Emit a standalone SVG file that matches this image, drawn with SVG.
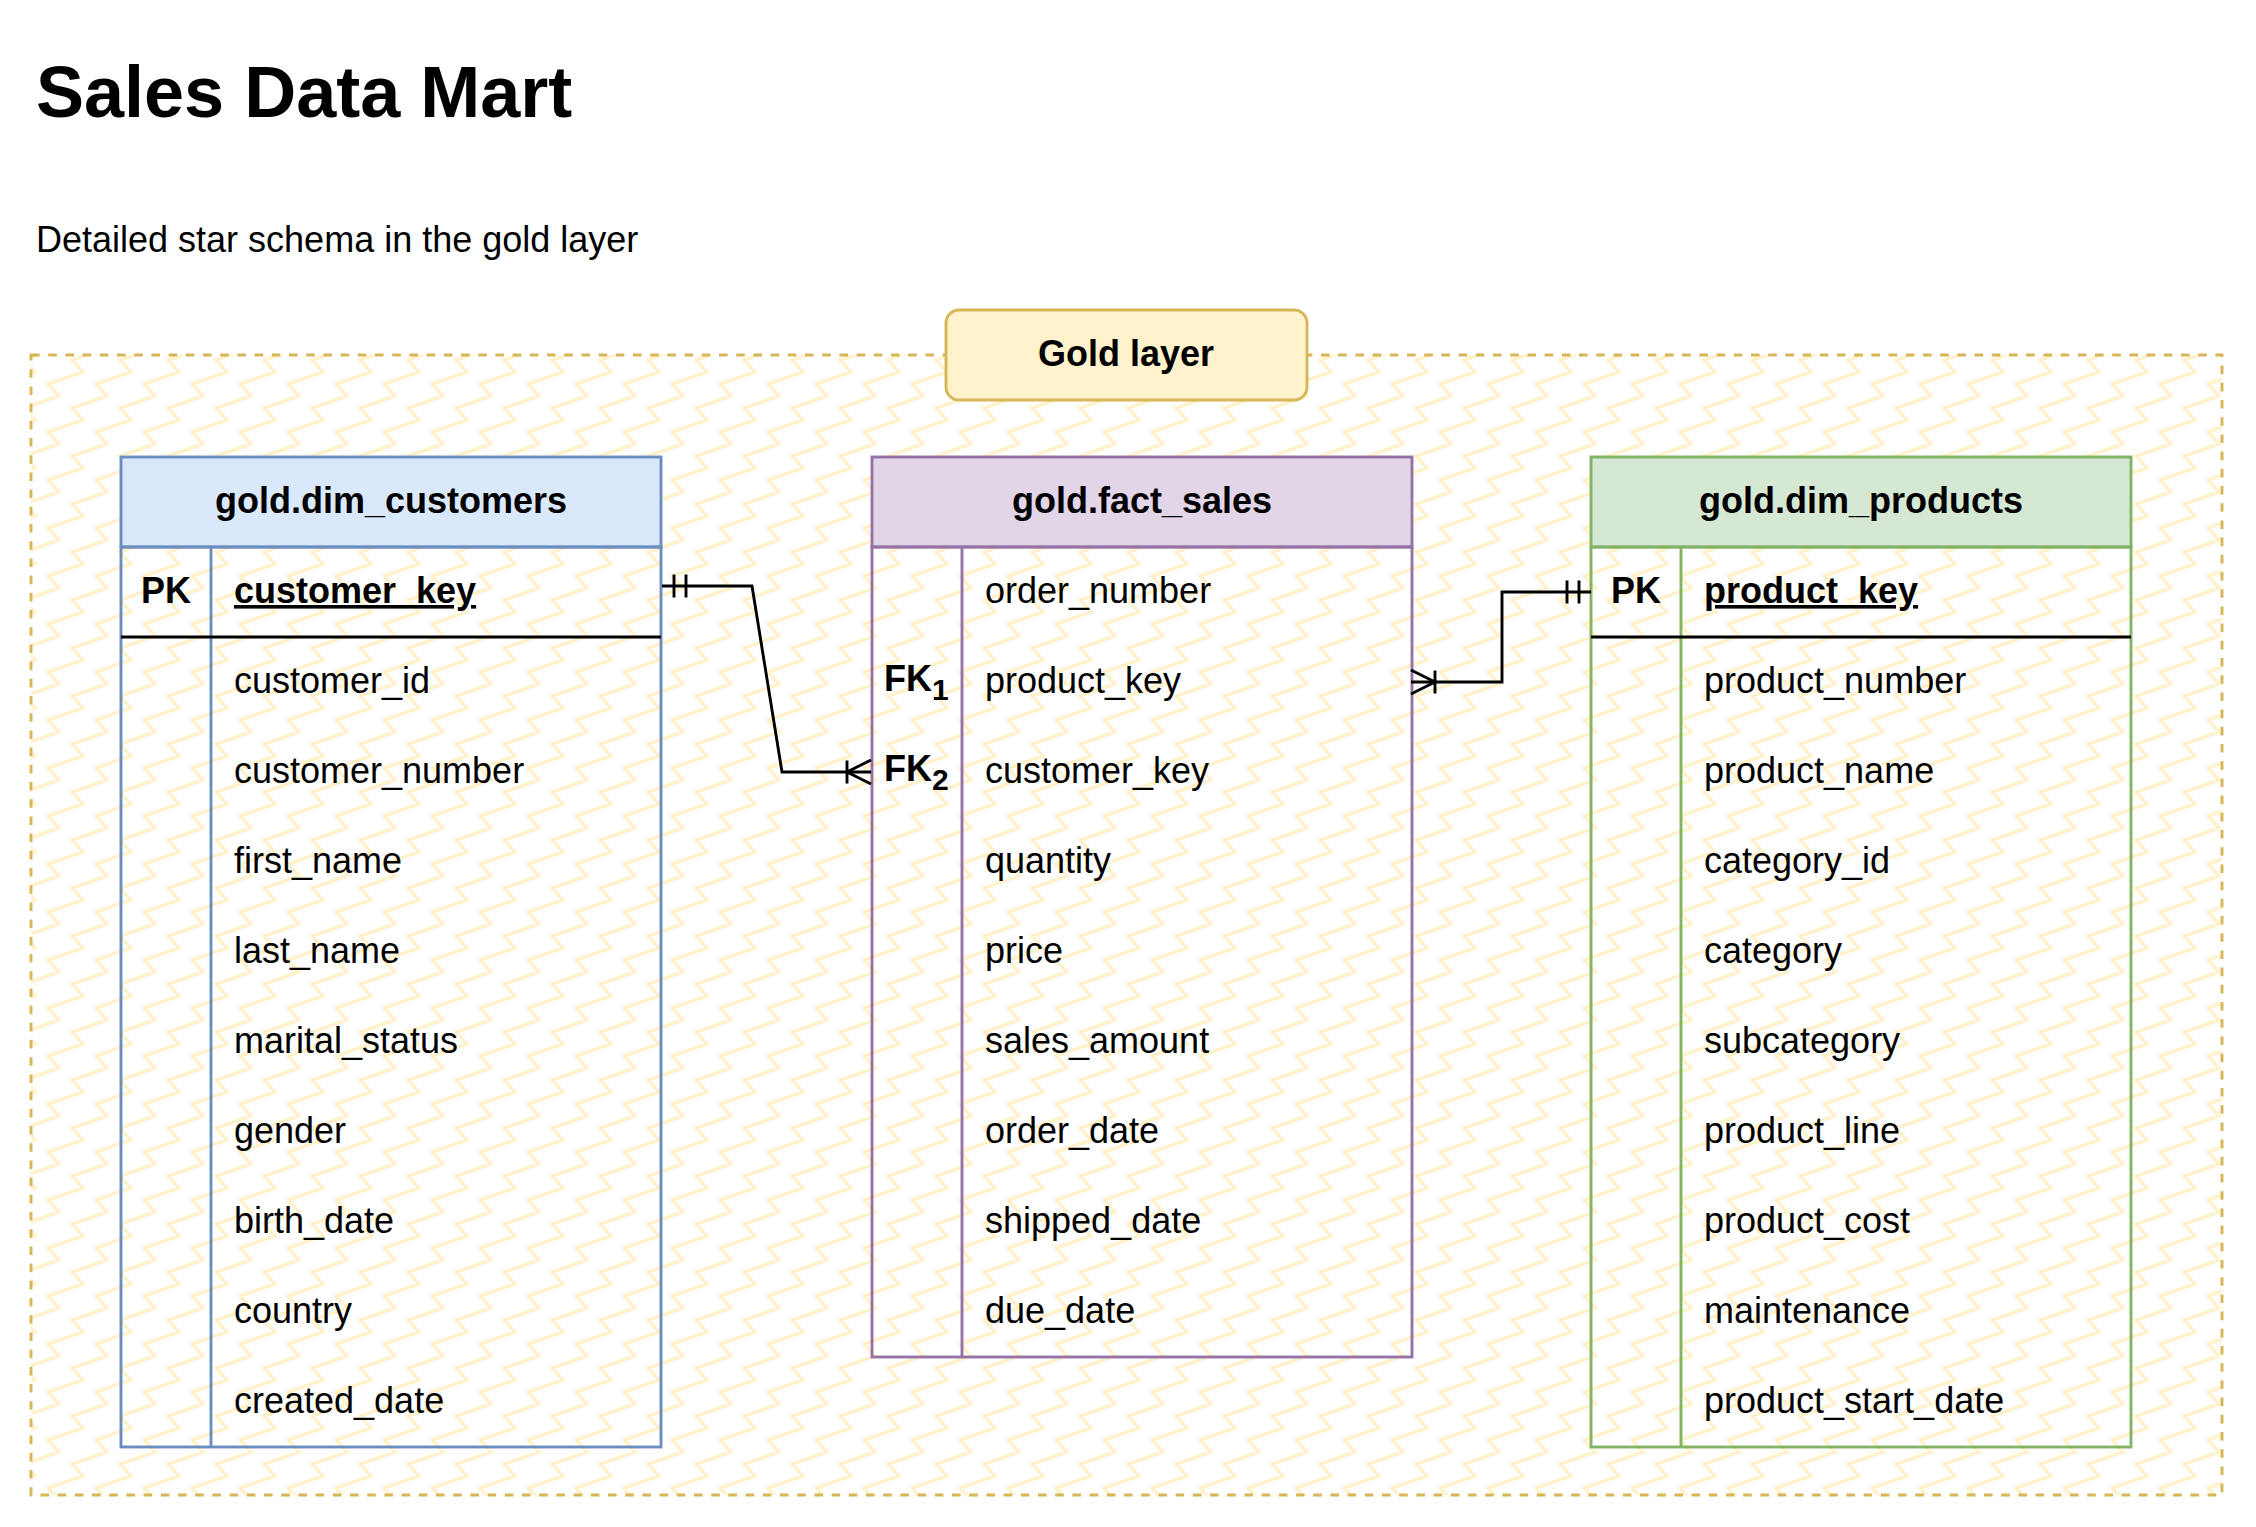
<svg xmlns="http://www.w3.org/2000/svg" width="2256" height="1527" viewBox="0 0 2256 1527">
<defs>
<style>
text{font-family:"Liberation Sans",Arial,Helvetica,sans-serif;fill:#000;font-size:36px}
.b{font-weight:bold}
.title{font-size:72px;font-weight:bold}
.c{text-anchor:middle}
.u{text-decoration:underline}
.sub{font-size:30px;font-weight:bold}
.pkl{stroke:#000;stroke-width:2.9}
.edge{fill:none;stroke:#000;stroke-width:2.9}
.mk{fill:none;stroke:#000;stroke-width:2.9}
.cu{stroke:#6c8ebf;stroke-width:2.9}
.fa{stroke:#9673a6;stroke-width:2.9}
.pr{stroke:#82b366;stroke-width:2.9}
</style>
<pattern id="zz" patternUnits="userSpaceOnUse" width="48" height="48">
<path fill="none" stroke="#fff2cc" stroke-width="3.6" d="M-96,96L-61,84L-72,72L-37,60L-48,48L-13,36L-24,24L11,12L0,0L35,-12L24,-24L59,-36L48,-48M-48,96L-13,84L-24,72L11,60L0,48L35,36L24,24L59,12L48,0L83,-12L72,-24L107,-36L96,-48M0,96L35,84L24,72L59,60L48,48L83,36L72,24L107,12L96,0L131,-12L120,-24L155,-36L144,-48"/>
</pattern>
<marker id="mandOne" markerUnits="userSpaceOnUse" markerWidth="60" markerHeight="60" refX="0" refY="0" orient="auto-start-reverse" style="overflow:visible"><path class="mk" d="M-12,-11.5V11.5M-24,-11.5V11.5"/></marker>
<marker id="oneMany" markerUnits="userSpaceOnUse" markerWidth="60" markerHeight="60" refX="0" refY="0" orient="auto-start-reverse" style="overflow:visible"><path class="mk" d="M-24,-11.5V11.5M0,-12L-24,0L0,12"/></marker>
</defs>
<rect width="2256" height="1527" fill="#fff"/>
<g id="heading">
<text class="title" x="36" y="117">Sales Data Mart</text>
<text x="36" y="252">Detailed star schema in the gold layer</text>
</g>
<g id="gold_layer">
<rect x="31" y="355" width="2191" height="1140" fill="url(#zz)" stroke="#d6b656" stroke-width="2.9" stroke-dasharray="8.6 8.6"/>
<rect x="946" y="310" width="361" height="90" rx="13" fill="#fff2cc" stroke="#d6b656" stroke-width="2.9"/>
<text class="b c" x="1126" y="366">Gold layer</text>
</g>
<g id="dim_customers">
<rect x="121" y="457" width="540" height="90" fill="#dae8fc" class="cu"/>
<rect x="121" y="547" width="540" height="900" fill="none" class="cu"/>
<line x1="211" y1="547" x2="211" y2="1447" class="cu"/>
<line x1="121" y1="637" x2="661" y2="637" class="pkl"/>
<text class="b c" x="391" y="513">gold.dim_customers</text>
<text class="b c" x="166" y="603">PK</text>
<text class="b u" x="234" y="603">customer_key</text>
<text x="234" y="693">customer_id</text>
<text x="234" y="783">customer_number</text>
<text x="234" y="873">first_name</text>
<text x="234" y="963">last_name</text>
<text x="234" y="1053">marital_status</text>
<text x="234" y="1143">gender</text>
<text x="234" y="1233">birth_date</text>
<text x="234" y="1323">country</text>
<text x="234" y="1413">created_date</text>
</g>
<g id="fact_sales">
<rect x="872" y="457" width="540" height="90" fill="#e1d5e7" class="fa"/>
<rect x="872" y="547" width="540" height="810" fill="none" class="fa"/>
<line x1="962" y1="547" x2="962" y2="1357" class="fa"/>
<text class="b c" x="1142" y="513">gold.fact_sales</text>
<text class="b" x="884" y="690.5">FK<tspan class="sub" dy="9">1</tspan></text>
<text class="b" x="884" y="780.5">FK<tspan class="sub" dy="9">2</tspan></text>
<text x="985" y="603">order_number</text>
<text x="985" y="693">product_key</text>
<text x="985" y="783">customer_key</text>
<text x="985" y="873">quantity</text>
<text x="985" y="963">price</text>
<text x="985" y="1053">sales_amount</text>
<text x="985" y="1143">order_date</text>
<text x="985" y="1233">shipped_date</text>
<text x="985" y="1323">due_date</text>
</g>
<g id="dim_products">
<rect x="1591" y="457" width="540" height="90" fill="#d5e8d4" class="pr"/>
<rect x="1591" y="547" width="540" height="900" fill="none" class="pr"/>
<line x1="1681" y1="547" x2="1681" y2="1447" class="pr"/>
<line x1="1591" y1="637" x2="2131" y2="637" class="pkl"/>
<text class="b c" x="1861" y="513">gold.dim_products</text>
<text class="b c" x="1636" y="603">PK</text>
<text class="b u" x="1704" y="603">product_key</text>
<text x="1704" y="693">product_number</text>
<text x="1704" y="783">product_name</text>
<text x="1704" y="873">category_id</text>
<text x="1704" y="963">category</text>
<text x="1704" y="1053">subcategory</text>
<text x="1704" y="1143">product_line</text>
<text x="1704" y="1233">product_cost</text>
<text x="1704" y="1323">maintenance</text>
<text x="1704" y="1413">product_start_date</text>
</g>
<g id="connectors">
<path class="edge" d="M662,586L752,586L782,772L871,772" marker-start="url(#mandOne)" marker-end="url(#oneMany)"/>
<path class="edge" d="M1411,682L1502,682L1502,592L1591,592" marker-start="url(#oneMany)" marker-end="url(#mandOne)"/>
</g>
</svg>
